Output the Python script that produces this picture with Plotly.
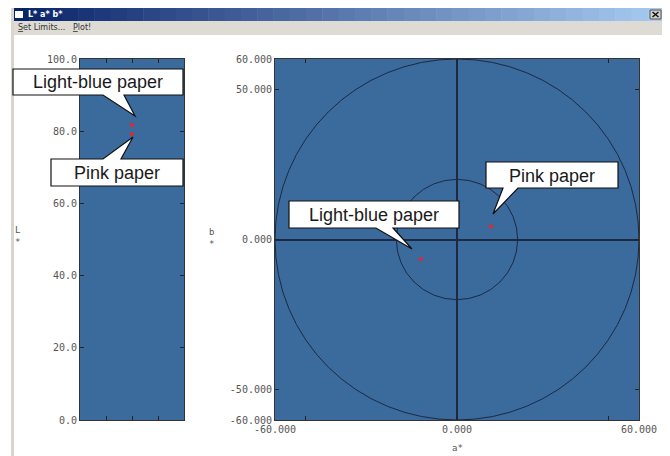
import plotly.graph_objects as go

# page body has an 8px margin: the figure is placed at (8, 8)
OFF = 8
W, H = 670 - OFF, 456 - OFF

# ---- data ----
samples = ["Light-blue paper", "Pink paper"]
L_values = [81.7, 79.2]
a_values = [-11.9, 11.2]
b_values = [-6.5, 4.3]
L_ticks = [0, 20, 40, 60, 80, 100]
L_ticklabels = ["0.0", "20.0", "40.0", "60.0", "80.0", "100.0"]
ab_ticks = [-60, -50, 0, 50, 60]
a_ticklabels = ["-60.000", "", "0.000", "", "60.000"]
b_ticklabels = ["-60.000", "-50.000", "0.000", "50.000", "60.000"]
circle_radii = [20, 60]


def px(x):
    return (x - OFF) / W


def py(y):
    return 1 - (y - OFF) / H


PANEL = "#3b6a9d"
DARK = "#1c2942"
TICKFONT = dict(family="DejaVu Sans Mono", size=10, color="#555555")

fig = go.Figure()

# L* panel point markers
fig.add_trace(go.Scatter(x=[2] * len(L_values), y=L_values, mode="markers",
                         marker=dict(color="#e8262c", size=4), xaxis="x", yaxis="y",
                         showlegend=False, hoverinfo="skip"))
# a*b* panel
fig.add_trace(go.Scatter(x=a_values, y=b_values, mode="markers",
                         marker=dict(color="#e8262c", size=4), xaxis="x2", yaxis="y2",
                         showlegend=False, hoverinfo="skip"))

ydom = [py(420), py(59)]
axis_common = dict(showgrid=False, showline=True, linecolor="#333333", linewidth=1,
                   mirror="ticks", ticks="inside", ticklen=4, tickcolor="#222222",
                   tickfont=TICKFONT, fixedrange=True, automargin=False)

fig.update_layout(
    width=W, height=H, margin=dict(l=0, r=0, t=0, b=0, pad=0, autoexpand=False),
    paper_bgcolor="white", plot_bgcolor=PANEL, showlegend=False,
    xaxis=dict(domain=[px(80), px(184)], range=[0, 4], tickvals=[1, 2, 3],
               ticktext=["", "", ""], zeroline=False, anchor="y", **axis_common),
    yaxis=dict(domain=ydom, range=[0, 100], tickvals=L_ticks, ticktext=L_ticklabels,
               zeroline=False, anchor="x", **axis_common),
    xaxis2=dict(domain=[px(275), px(639)], range=[-60, 60], tickvals=ab_ticks,
                ticktext=a_ticklabels, zeroline=True, zerolinecolor=DARK,
                zerolinewidth=1.5, anchor="y2", **axis_common),
    yaxis2=dict(domain=ydom, range=[-60, 60], tickvals=ab_ticks, ticktext=b_ticklabels,
                zeroline=True, zerolinecolor=DARK, zerolinewidth=1.5, anchor="x2",
                **axis_common),
)

shapes = []
# circles on a*b* plane
for r in circle_radii:
    shapes.append(dict(type="circle", xref="x2", yref="y2", x0=-r, x1=r, y0=-r, y1=r,
                       line=dict(color=DARK, width=1), layer="above"))

# ---- window chrome ----
# title bar gradient
c0 = (10, 36, 106)
c1 = (166, 202, 240)
n = 40
x_start, x_end = 13, 664
for i in range(n):
    t = i / (n - 1)
    col = tuple(int(c0[k] + (c1[k] - c0[k]) * t) for k in range(3))
    xa = x_start + (x_end - x_start) * i / n
    xb = x_start + (x_end - x_start) * (i + 1) / n + 0.5
    shapes.append(dict(type="rect", xref="paper", yref="paper", x0=px(xa), x1=px(xb),
                       y0=py(21), y1=py(8), line=dict(width=0),
                       fillcolor="rgb(%d,%d,%d)" % col, layer="above"))
# menu bar
shapes.append(dict(type="rect", xref="paper", yref="paper", x0=px(13), x1=px(664),
                   y0=py(35), y1=py(21), line=dict(width=0), fillcolor="#dedbd4"))
# left border
shapes.append(dict(type="rect", xref="paper", yref="paper", x0=px(11), x1=px(14),
                   y0=py(456), y1=py(8), line=dict(width=0), fillcolor="#d8d5ce"))
# right border
shapes.append(dict(type="rect", xref="paper", yref="paper", x0=px(663), x1=px(666),
                   y0=py(456), y1=py(8), line=dict(width=0), fillcolor="#8a8a8a"))
# close button
shapes.append(dict(type="rect", xref="paper", yref="paper", x0=px(650), x1=px(661),
                   y0=py(19), y1=py(10), line=dict(color="#555", width=1),
                   fillcolor="#d4d0c8", layer="above"))
shapes.append(dict(type="path", xref="paper", yref="paper",
                   path="M %f,%f L %f,%f M %f,%f L %f,%f" % (px(652.5), py(12), px(658.5), py(17),
                                                             px(658.5), py(12), px(652.5), py(17)),
                   line=dict(color="#111", width=1.5), layer="above"))
# title icon
shapes.append(dict(type="rect", xref="paper", yref="paper", x0=px(15), x1=px(23),
                   y0=py(18), y1=py(11), line=dict(width=0), fillcolor="white", layer="above"))


# ---- callouts (speech bubbles) ----
def bubble(x0, y0, x1, y1, w0, w1, tip, side):
    if side == "bottom":
        pts = [(x0, y0), (x1, y0), (x1, y1), (w1, y1), tip, (w0, y1), (x0, y1)]
    else:
        pts = [(x0, y0), (w0, y0), tip, (w1, y0), (x1, y0), (x1, y1), (x0, y1)]
    p = "M " + " L ".join("%f,%f" % (px(a), py(b)) for a, b in pts) + " Z"
    return dict(type="path", xref="paper", yref="paper", path=p,
                fillcolor="white", line=dict(color="#111111", width=1.2), layer="above")


callouts = [
    # (box x0, y0, x1, y1, wedge a, wedge b, tip, side, text)
    (13, 69, 183, 95, 103, 124, (135, 116), "bottom", samples[0]),
    (51, 159, 183, 186, 103, 121, (133, 137), "top", samples[1]),
    (289, 201, 459, 228, 376, 393, (412, 249), "bottom", samples[0]),
    (486, 162, 618, 188, 503, 518, (493, 214), "bottom", samples[1]),
]
annotations = []
for (x0, y0, x1, y1, w0, w1, tip, side, txt) in callouts:
    shapes.append(bubble(x0, y0, x1, y1, w0, w1, tip, side))
    annotations.append(dict(xref="paper", yref="paper", x=px((x0 + x1) / 2),
                            y=py((y0 + y1) / 2 + 0.5), text=txt, showarrow=False,
                            xanchor="center", yanchor="middle",
                            font=dict(family="Liberation Sans, Arial", size=18,
                                      color="#1a1a1a")))

# axis labels
small = dict(family="DejaVu Sans Mono", size=9, color="#555555")
annotations += [
    dict(xref="paper", yref="paper", x=px(17), y=py(236), text="L<br>*", showarrow=False,
         font=small, xanchor="center", yanchor="middle"),
    dict(xref="paper", yref="paper", x=px(211), y=py(238), text="b<br>*", showarrow=False,
         font=small, xanchor="center", yanchor="middle"),
    dict(xref="paper", yref="paper", x=px(457), y=py(448), text="a*", showarrow=False,
         font=small, xanchor="center", yanchor="middle"),
    dict(xref="paper", yref="paper", x=px(26), y=py(14.5), text="<b>L* a* b*</b>",
         showarrow=False, xanchor="left", yanchor="middle",
         font=dict(family="DejaVu Sans", size=8, color="white")),
    dict(xref="paper", yref="paper", x=px(16), y=py(28), text="<u>S</u>et Limits...   <u>P</u>lot!",
         showarrow=False, xanchor="left", yanchor="middle",
         font=dict(family="DejaVu Sans", size=8, color="#333333")),
]

fig.update_layout(shapes=shapes, annotations=annotations)
fig.write_html("out.html")
